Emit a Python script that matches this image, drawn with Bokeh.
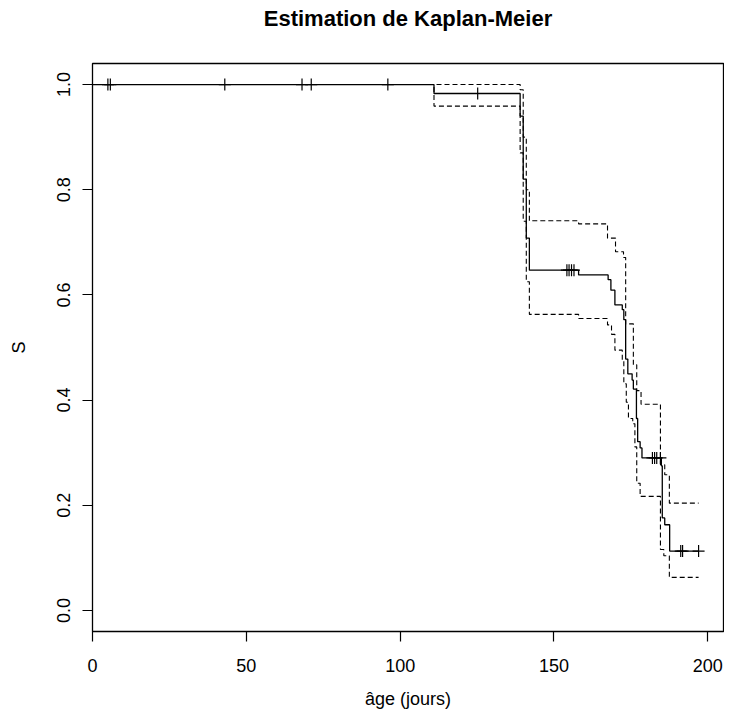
import numpy as np
from bokeh.plotting import figure
from bokeh.models import FixedTicker, PrintfTickFormatter, Range1d, Title
from bokeh.embed import file_html
from bokeh.resources import INLINE

# Kaplan-Meier estimate (step values after each time)
surv_time = [0, 111, 139, 140, 141, 142, 158, 167.6, 168.5, 169.8, 172.2, 172.7,
             173.3, 174.0, 175.4, 175.8, 176.8, 177.2, 178.0, 178.6, 184.9, 185.2,
             186.0, 187.6]
surv = [1.0, 0.983, 0.94, 0.82, 0.708, 0.647, 0.638, 0.629, 0.609, 0.581, 0.572, 0.553,
        0.478, 0.450, 0.438, 0.421, 0.365, 0.321, 0.309, 0.290, 0.275, 0.176,
        0.163, 0.113]

# confidence band
upper_time = [0, 139, 140, 141, 142, 158, 167.4, 170.0, 172.6, 173.3, 175.8, 176.9,
              178.3, 184.6, 186.0, 187.5]
upper = [1.0, 0.99, 0.90, 0.80, 0.741, 0.735, 0.708, 0.682, 0.671, 0.545, 0.467, 0.418,
         0.392, 0.277, 0.258, 0.204]

lower_time = [0, 111, 139, 140, 141, 142, 158, 167.4, 168.7, 169.8, 172.2, 172.7,
              173.5, 174.2, 175.6, 176.3, 176.9, 178.0, 184.6, 185.7, 187.5]
lower = [1.0, 0.959, 0.87, 0.74, 0.625, 0.563, 0.555, 0.543, 0.525, 0.495, 0.475, 0.431,
         0.396, 0.365, 0.355, 0.311, 0.242, 0.217, 0.116, 0.104, 0.063]

last_time = 197.0

# censored observations
cens_time = [5.0, 5.8, 43.0, 68.1, 71.1, 96.0, 125.2, 154.2, 154.9, 155.7, 156.5,
             182.0, 182.7, 183.4, 184.6, 191.2, 191.8, 197.0]

x_ticks = [0, 50, 100, 150, 200]
y_ticks = [0.0, 0.2, 0.4, 0.6, 0.8, 1.0]

title_text = "Estimation de Kaplan-Meier"
x_label = "âge (jours)"
y_label = "S"

FONT = "Liberation Sans"
X_MAX = 205.1
Y_MIN, Y_MAX = -0.04, 1.04


def extend(t, s):
    return list(t) + [last_time], list(s) + [s[-1]]


def lookup(t_arr, s_arr, t):
    idx = np.searchsorted(np.array(t_arr), t, side="right") - 1
    return [s_arr[i] for i in idx]


p = figure(width=724, height=711, output_backend="svg", toolbar_location=None,
           x_range=Range1d(0, X_MAX), y_range=Range1d(Y_MIN, Y_MAX),
           min_border_left=92, min_border_right=1, min_border_top=63,
           min_border_bottom=74)

p.title.text = title_text
p.title.text_font = FONT
p.title.text_font_size = "22px"
p.title.text_font_style = "bold"
p.title.align = "center"
p.title.text_color = "black"
p.title.standoff = 4

# empty spacer between the title and the frame
p.add_layout(Title(text=" ", text_font_size="1px", standoff=28), "above")

p.xgrid.visible = False
p.ygrid.visible = False
p.outline_line_color = "black"
p.outline_line_width = 1.3
p.background_fill_color = "white"
p.border_fill_color = "white"

for ax in (p.xaxis[0], p.yaxis[0]):
    ax.axis_line_color = None
    ax.major_tick_in = 0
    ax.major_tick_out = 10
    ax.major_tick_line_color = "black"
    ax.major_tick_line_width = 1.2
    ax.minor_tick_line_color = None
    ax.major_label_text_font = FONT
    ax.major_label_text_font_size = "18px"
    ax.major_label_text_color = "black"
    ax.axis_label_text_font = FONT
    ax.axis_label_text_font_size = "18px"
    ax.axis_label_text_font_style = "normal"
    ax.axis_label_text_color = "black"

p.xaxis.ticker = FixedTicker(ticks=x_ticks)
p.yaxis.ticker = FixedTicker(ticks=y_ticks)
p.yaxis.formatter = PrintfTickFormatter(format="%.1f")
p.yaxis.major_label_orientation = "vertical"
p.xaxis.axis_label = x_label
p.yaxis.axis_label = y_label
p.xaxis.major_label_standoff = 17
p.xaxis.axis_label_standoff = 14
p.yaxis.major_label_standoff = 12
p.yaxis.axis_label_standoff = 26

tx, sx = extend(surv_time, surv)
p.step(tx, sx, mode="after", line_color="black", line_width=1.3)
tu, su = extend(upper_time, upper)
p.step(tu, su, mode="after", line_color="black", line_width=1.1, line_dash="5 3")
tl, sl = extend(lower_time, lower)
p.step(tl, sl, mode="after", line_color="black", line_width=1.1, line_dash="5 3")

cens_surv = lookup(surv_time, surv, cens_time)
p.scatter(cens_time, cens_surv, marker="cross", size=12, line_color="black",
          line_width=1.2)

open("out.html", "w").write(file_html(p, INLINE))
